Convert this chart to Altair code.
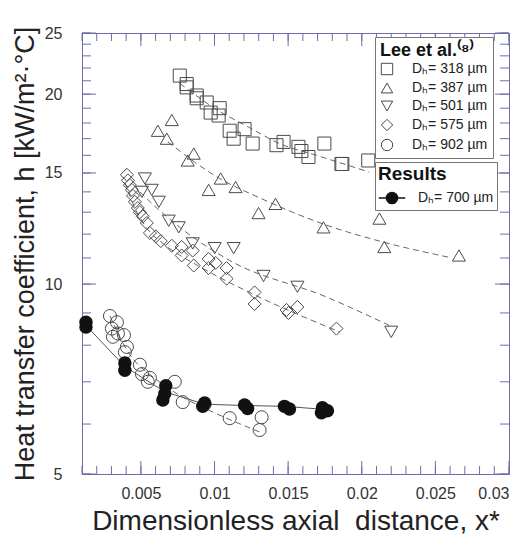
import altair as alt
import pandas as pd

# ---------------- data ----------------
lee_labels = ["Dₕ= 318 µm", "Dₕ= 387 µm", "Dₕ= 501 µm", "Dₕ= 575 µm", "Dₕ= 902 µm"]
res_label = "Dₕ= 700 µm"

sq_x = [0.00764, 0.00811, 0.00811, 0.00879, 0.00879, 0.00947, 0.00974, 0.01035, 0.01028, 0.01103,
        0.01204, 0.0113, 0.01259, 0.01421, 0.01469, 0.0157, 0.0159, 0.01638, 0.01746, 0.01862,
        0.01868, 0.02044]
sq_y = [21.4, 20.75, 20.5, 19.9, 19.7, 19.4, 18.7, 19.0, 18.5, 17.5,
        17.6, 17.0, 16.7, 16.6, 16.8, 16.5, 16.25, 15.9, 16.7, 15.5,
        15.5, 15.7]

tu_x = [0.0071, 0.00615, 0.00676, 0.00859, 0.00818, 0.01042, 0.0096, 0.01143, 0.01414, 0.01299,
        0.0174, 0.0212, 0.02153, 0.0266]
tu_y = [18.2, 17.5, 17.0, 16.1, 15.7, 14.7, 14.1, 14.25, 13.4, 12.96,
        12.3, 12.7, 11.45, 11.1]

td_x = [0.00527, 0.00507, 0.00574, 0.00622, 0.00689, 0.00757, 0.00852, 0.01001, 0.0113, 0.01333,
        0.01563, 0.022]
td_y = [14.7, 14.0, 14.1, 13.5, 12.6, 12.3, 11.6, 11.4, 11.4, 10.3,
        9.9, 8.4]

di_x = [0.00405, 0.00412, 0.00425, 0.00439, 0.00446, 0.00459, 0.00479, 0.00493, 0.00513, 0.0054,
        0.00561, 0.00601, 0.00635, 0.0071, 0.00777, 0.00777, 0.00852, 0.00859, 0.0096, 0.0096,
        0.01008, 0.01082, 0.01082, 0.01272, 0.01272, 0.01489, 0.01502, 0.01563, 0.01828]
di_y = [14.9, 14.6, 14.35, 14.1, 13.8, 13.5, 13.2, 13.0, 12.8, 12.5,
        12.05, 11.9, 11.7, 11.5, 11.45, 11.1, 11.3, 10.7, 10.96, 10.6,
        10.8, 10.6, 10.2, 9.7, 9.3, 9.1, 9.0, 9.2, 8.5]

ci_x = [0.0029, 0.00337, 0.00303, 0.00344, 0.0031, 0.00385, 0.00405, 0.00391, 0.00493, 0.00507,
        0.00561, 0.00547, 0.0073, 0.00784, 0.00933, 0.01103, 0.0132, 0.01306]
ci_y = [8.9, 8.7, 8.5, 8.35, 8.25, 8.3, 7.95, 7.8, 7.45, 7.2,
        7.1, 7.0, 7.0, 6.5, 6.45, 6.13, 6.15, 5.87]

res_x = [0.00127, 0.00127, 0.00391, 0.00391, 0.00669, 0.00662, 0.00649, 0.00933, 0.0092, 0.01204,
         0.01225, 0.01475, 0.01509, 0.01733, 0.01767, 0.01726]
res_y = [8.7, 8.55, 7.5, 7.3, 6.9, 6.7, 6.55, 6.48, 6.4, 6.43,
         6.35, 6.4, 6.34, 6.37, 6.3, 6.25]

res_line_x = [0.00127, 0.00391, 0.00662, 0.00933, 0.01204, 0.01475, 0.01746]
res_line_y = [8.6, 7.4, 6.75, 6.45, 6.42, 6.4, 6.33]

sq_fit_x = [0.00764, 0.01015, 0.01238, 0.01441, 0.01692, 0.02051]
sq_fit_y = [20.8, 18.9, 17.7, 16.7, 16.0, 15.05]
tu_fit_x = [0.00683, 0.01035, 0.01306, 0.0176, 0.0212, 0.02614]
tu_fit_y = [16.8, 14.7, 13.7, 12.4, 11.7, 11.0]
td_fit_x = [0.00493, 0.00608, 0.00764, 0.01103, 0.0176, 0.02187]
td_fit_y = [14.0, 13.2, 12.3, 10.9, 9.54, 8.6]
di_fit_x = [0.00391, 0.00459, 0.00561, 0.00649, 0.00886, 0.01238, 0.01848]
di_fit_y = [14.5, 13.2, 12.1, 11.6, 10.7, 9.7, 8.4]
ci_fit_x = [0.0029, 0.00405, 0.00608, 0.00784, 0.00988, 0.01306]
ci_fit_y = [8.9, 7.86, 7.05, 6.62, 6.27, 5.83]

x_labels = [0.005, 0.01, 0.015, 0.02, 0.025, 0.03]
y_labels = [5, 10, 15, 20, 25]
x_minor = [i / 1000 for i in range(1, 31)]
y_minor = list(range(5, 26))

# ---------------- styling ----------------
FONT = "Liberation Sans"
AXC = "#6d6dab"
MK = "#4a4a4a"
W, H = 427, 441
lee_shapes = ["square", "triangle-up", "triangle-down", "diamond", "circle"]
res_sym = ("M-1,0L-0.42,0M0.42,0L1,0M-0.42,0A0.42,0.42,0,1,1,0.42,0"
           "A0.42,0.42,0,1,1,-0.42,0Z")


def frame(xs, ys, label):
    return pd.DataFrame({"x": xs, "y": ys, "label": label})


lee_df = pd.concat([
    frame(sq_x, sq_y, lee_labels[0]),
    frame(tu_x, tu_y, lee_labels[1]),
    frame(td_x, td_y, lee_labels[2]),
    frame(di_x, di_y, lee_labels[3]),
    frame(ci_x, ci_y, lee_labels[4]),
], ignore_index=True)

fit_df = pd.concat([
    frame(sq_fit_x, sq_fit_y, "a"),
    frame(tu_fit_x, tu_fit_y, "b"),
    frame(td_fit_x, td_fit_y, "c"),
    frame(di_fit_x, di_fit_y, "d"),
    frame(ci_fit_x, ci_fit_y, "e"),
], ignore_index=True)

res_df = frame(res_x, res_y, res_label)
res_line_df = frame(res_line_x, res_line_y, res_label)

xscale = alt.Scale(domain=[0.001, 0.03], nice=False, zero=False)
yscale = alt.Scale(type="log", domain=[5, 25], nice=False)
xaxis = alt.Axis(values=x_labels, format="~g",
                 title="Dimensionless axial\u00a0\u00a0distance, x*",
                 labelPadding=11, titlePadding=6, titleFontSize=28)
yaxis = alt.Axis(values=y_labels, format="d",
                 title="Heat transfer coefficient, h [kW/m²·°C]",
                 labelPadding=20, titlePadding=5, titleFontSize=27)


def X(field="x"):
    return alt.X(f"{field}:Q", scale=xscale, axis=xaxis)


def Y(field="y"):
    return alt.Y(f"{field}:Q", scale=yscale, axis=yaxis)


fits = alt.Chart(fit_df).mark_line(
    color="#666", strokeWidth=1, strokeDash=[6, 4], interpolate="monotone"
).encode(x=X(), y=Y(), detail="label:N")

lee = alt.Chart(lee_df).mark_point(
    filled=False, size=170, strokeWidth=1, color=MK, opacity=1
).encode(
    x=X(), y=Y(),
    shape=alt.Shape("label:N", scale=alt.Scale(domain=lee_labels, range=lee_shapes),
                    legend=alt.Legend(
                        title="Lee et al.⁽⁸⁾", orient="none", legendX=293, legendY=4,
                        titleFontSize=18, titleFontWeight="bold", titleColor="#111",
                        titleFont=FONT, labelFont=FONT, labelFontSize=14, labelColor="#222",
                        symbolStrokeColor=MK, symbolFillColor="white", symbolSize=130,
                        symbolStrokeWidth=1, labelOffset=18, rowPadding=4, padding=5,
                        strokeColor="#777", fillColor="white", titlePadding=2)),
)

res_line = alt.Chart(res_line_df).mark_line(color="#555", strokeWidth=1).encode(
    x=X(), y=Y())

res = alt.Chart(res_df).mark_point(filled=True, size=180, opacity=1).encode(
    x=X(), y=Y(),
    color=alt.Color("label:N", scale=alt.Scale(domain=[res_label], range=["#111"]),
                    legend=alt.Legend(
                        title="Results", orient="none", legendX=293, legendY=129,
                        titleFontSize=19, titleFontWeight="bold", titleColor="#111",
                        titleFont=FONT, labelFont=FONT, labelFontSize=14, labelColor="#222",
                        symbolType=res_sym, symbolSize=700, symbolStrokeColor="#111",
                        symbolStrokeWidth=1.5, labelOffset=12, padding=3,
                        strokeColor="#777", fillColor="white", titlePadding=0)),
)


def tick_layer(vals, axis, side, length):
    df = pd.DataFrame({"v": vals})
    base = alt.Chart(df).mark_rule(color=AXC, strokeWidth=1)
    if axis == "x":
        enc = dict(x=X("v"))
        if side == "bottom":
            enc.update(y=alt.value(H), y2=alt.value(H - length))
        else:
            enc.update(y=alt.value(0), y2=alt.value(length))
    else:
        enc = dict(y=Y("v"))
        if side == "left":
            enc.update(x=alt.value(0), x2=alt.value(length))
        else:
            enc.update(x=alt.value(W), x2=alt.value(W - length))
    return base.encode(**enc)


ticks = [
    tick_layer(x_minor, "x", "bottom", 8), tick_layer(x_labels, "x", "bottom", 13),
    tick_layer(x_minor, "x", "top", 8), tick_layer(x_labels, "x", "top", 13),
    tick_layer(y_minor, "y", "left", 9), tick_layer(y_labels, "y", "left", 14),
    tick_layer(y_minor, "y", "right", 9), tick_layer(y_labels, "y", "right", 14),
]

chart = alt.layer(fits, *ticks, lee, res_line, res).properties(
    width=W, height=H,
    autosize=alt.AutoSizeParams(type="none"),
    padding={"left": 74, "top": 25, "right": 6, "bottom": 62},
).configure_view(stroke=AXC, strokeWidth=1).configure_axis(
    grid=False, domain=False, ticks=False, tickSize=0,
    labelFont=FONT, labelFontSize=16, labelColor="#333",
    titleFont=FONT, titleFontWeight="normal", titleColor="#222",
)

chart.save("out.html", embed_options={"renderer": "svg", "actions": False})
